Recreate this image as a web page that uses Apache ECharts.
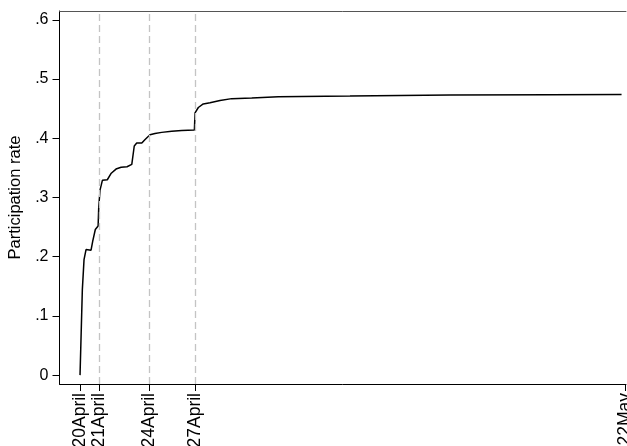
<!DOCTYPE html>
<html>
<head>
<meta charset="utf-8">
<script src="https://cdn.jsdelivr.net/npm/echarts@6/dist/echarts.min.js"></script>
<style>html,body{margin:0;padding:0;background:#fff}#c{width:627px;height:446px}</style>
</head>
<body>
<div id="c"></div>
<script>
// x in days since 20 April (axis scale), y = participation rate
const days = [0, 0.14, 0.243, 0.365, 0.67, 0.77, 0.93, 1.10, 1.14, 1.22, 1.36, 1.66, 1.90, 2.19, 2.50, 2.86, 3.15, 3.30, 3.45, 3.76, 3.96, 4.26, 4.56, 4.97, 5.58, 6.19, 6.96, 7.00, 7.20, 7.50, 7.91, 8.52, 9.23, 10.45, 12.07, 13.49, 16.43, 22.52, 28.61, 32.96];
const rate = [0, 0.144, 0.195, 0.212, 0.211, 0.226, 0.246, 0.252, 0.285, 0.313, 0.329, 0.330, 0.341, 0.348, 0.351, 0.352, 0.356, 0.387, 0.392, 0.392, 0.398, 0.406, 0.408, 0.410, 0.412, 0.413, 0.414, 0.443, 0.452, 0.458, 0.460, 0.464, 0.467, 0.468, 0.470, 0.4708, 0.4715, 0.473, 0.4735, 0.474];
const tickDays = [0, 1.14, 4.2, 7.0, 33.17];
const tickLabels = ['20April', '21April', '24April', '27April', '22May'];
const refDays = [1.14, 4.2, 7.0];
const yTicks = [0, 0.1, 0.2, 0.3, 0.4, 0.5, 0.6];
const yLabels = ['0', '.1', '.2', '.3', '.4', '.5', '.6'];

const chart = echarts.init(document.getElementById('c'), null, {renderer: 'canvas'});
const font = 'Liberation Sans';
chart.setOption({
  animation: false,
  grid: {left: 59.5, right: 1, top: 11, bottom: 62, containLabel: false, outerBoundsMode: 'none'},
  xAxis: [{
    type: 'value', min: -1.25, max: 33.23,
    splitLine: {show: false},
    axisLine: {onZero: false, lineStyle: {color: '#000', width: 1}},
    axisTick: {show: true, length: 7, lineStyle: {color: '#000'}, customValues: tickDays},
    axisLabel: {
      customValues: tickDays, rotate: 90, margin: 9, color: '#000',
      fontFamily: font, fontSize: 17.5, hideOverlap: false,
      formatter: v => tickLabels[tickDays.indexOf(v)]
    }
  }, {
    type: 'value', min: -1.25, max: 33.23, position: 'top',
    axisLine: {show: true, onZero: false, lineStyle: {color: '#555', width: 1}},
    axisTick: {show: false}, axisLabel: {show: false}, splitLine: {show: false}
  }],
  yAxis: {
    type: 'value', min: -0.015, max: 0.615,
    name: 'Participation rate', nameLocation: 'middle', nameGap: 34,
    nameTextStyle: {fontFamily: font, fontSize: 16.5, color: '#000'},
    splitLine: {show: false},
    axisLine: {show: true, onZero: false, lineStyle: {color: '#000', width: 1}},
    axisTick: {show: true, length: 7, lineStyle: {color: '#000'}, customValues: yTicks},
    axisLabel: {
      customValues: yTicks, margin: 11, color: '#000', fontFamily: font, fontSize: 16,
      formatter: v => yLabels[yTicks.indexOf(v)]
    }
  },
  series: [{
    type: 'line', xAxisIndex: 0,
    data: days.map((d, i) => [d, rate[i]]),
    showSymbol: false, smooth: false,
    lineStyle: {color: '#000', width: 1.5},
    markLine: {
      silent: true, symbol: 'none', label: {show: false},
      lineStyle: {color: '#c4c4c4', type: [7, 4], width: 1.3},
      data: refDays.map(d => ({xAxis: d}))
    }
  }]
});
</script>
</body>
</html>
